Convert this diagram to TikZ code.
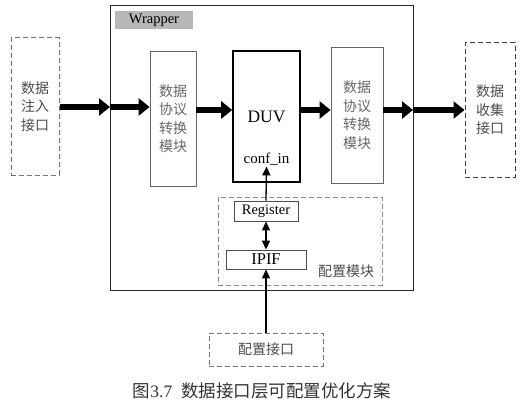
\documentclass[tikz,border=0pt]{standalone}
\usepackage{fontspec}
\setmainfont{Liberation Serif}
\newfontfamily\cjk{Noto Sans CJK SC}
\usetikzlibrary{arrows.meta}

\tikzset{
    portbox/.style={draw=black!55, dash pattern=on 5pt off 3pt, line width=1pt,
        align=center, inner sep=0pt, text=black!70,
        font=\cjk\fontsize{14}{18.5}\selectfont},
    convbox/.style={draw=black!60, line width=0.8pt, align=center, inner sep=0pt,
        text=black!60, font=\cjk\fontsize{14}{18.5}\selectfont},
    regbox/.style={draw=black!70, line width=0.8pt, inner sep=0pt,
        font=\fontsize{14.5}{16}\selectfont},
    fat/.style={line width=6.5pt, -{Triangle[length=11pt, width=17pt]}},
    slim/.style={line width=1.3pt, -{Triangle[length=9pt, width=8pt]}},
    both/.style={line width=1.3pt,
        {Triangle[length=9pt, width=8pt]}-{Triangle[length=9pt, width=8pt]}},
}

\begin{document}
\begin{tikzpicture}[x=1pt, y=-1pt]
    \useasboundingbox (0,0) rectangle (522,412);

    % Wrapper
    \node[draw=black!85, line width=0.9pt, minimum width=303pt, minimum height=285pt,
        inner sep=0pt] (wrap) at (261.5,147.5) {};
    \node[fill=black!28, minimum width=78pt, minimum height=18pt, inner sep=0pt,
        font=\fontsize{14.5}{16}\selectfont] (wraplbl) at (154,20) {Wrapper};

    % Outer interfaces
    \node[portbox, minimum width=48pt, minimum height=137pt] (inj)
        at (35,106.5) {数据\\注入\\接口};
    \node[portbox, draw=black!75, minimum width=50pt, minimum height=134pt] (coll)
        at (490,110) {数据\\收集\\接口};
    \node[portbox, minimum width=114pt, minimum height=33pt] (cfgif)
        at (266,349.5) {配置接口};

    % Protocol converters
    \node[convbox, minimum width=46pt, minimum height=135pt] (convL)
        at (173,118.5) {数据\\协议\\转换\\模块};
    \node[convbox, minimum width=52pt, minimum height=136pt] (convR)
        at (357,115) {数据\\协议\\转换\\模块};

    % DUV
    \node[draw, line width=1.6pt, minimum width=67pt, minimum height=131pt,
        inner sep=0pt] (duv) at (266.5,116.5) {};
    \node[font=\fontsize{17.5}{19}\selectfont] (duvlbl) at (266.5,117) {DUV};
    \node[font=\fontsize{15}{17}\selectfont, inner sep=1pt] (confin)
        at (266.5,159) {conf\_in};

    % Configuration module
    \node[draw=black!45, dash pattern=on 5pt off 3pt, line width=0.9pt,
        minimum width=164pt, minimum height=88pt, inner sep=0pt] (cfg)
        at (300,241) {};
    \node[regbox, minimum width=64pt, minimum height=20pt] (reg)
        at (266,211) {Register};
    \node[regbox, minimum width=80pt, minimum height=19pt,
        font=\fontsize{16.5}{18}\selectfont] (ipif) at (266,259.5) {IPIF};
    \node[text=black!70, font=\cjk\fontsize{14}{16}\selectfont] (cfglbl)
        at (346,271) {配置模块};

    % Data path
    \coordinate (wl) at (110,107);
    \coordinate (wr) at (413,110);
    \draw[fat] (inj.east |- wl) -- (wl);
    \draw[fat] (wl) -- (convL.west |- wl);
    \draw[fat] (convL.east |- wr) -- (duv.west |- wr);
    \draw[fat] (duv.east |- wr) -- (convR.west |- wr);
    \draw[fat] (convR.east |- wr) -- (wr);
    \draw[fat] (wr) -- (coll.west |- wr);

    % Configuration path
    \draw[slim] (cfgif.north) -- (ipif.south);
    \draw[both] (reg.south) -- (ipif.north);
    \draw[slim] (reg.north) -- (confin.south);

    % Caption
    \node[text=black!80, font=\fontsize{17.5}{19}\selectfont] (caption)
        at (262,391) {{\cjk 图}3.7\ \ {\cjk 数据接口层可配置优化方案}};
\end{tikzpicture}
\end{document}
